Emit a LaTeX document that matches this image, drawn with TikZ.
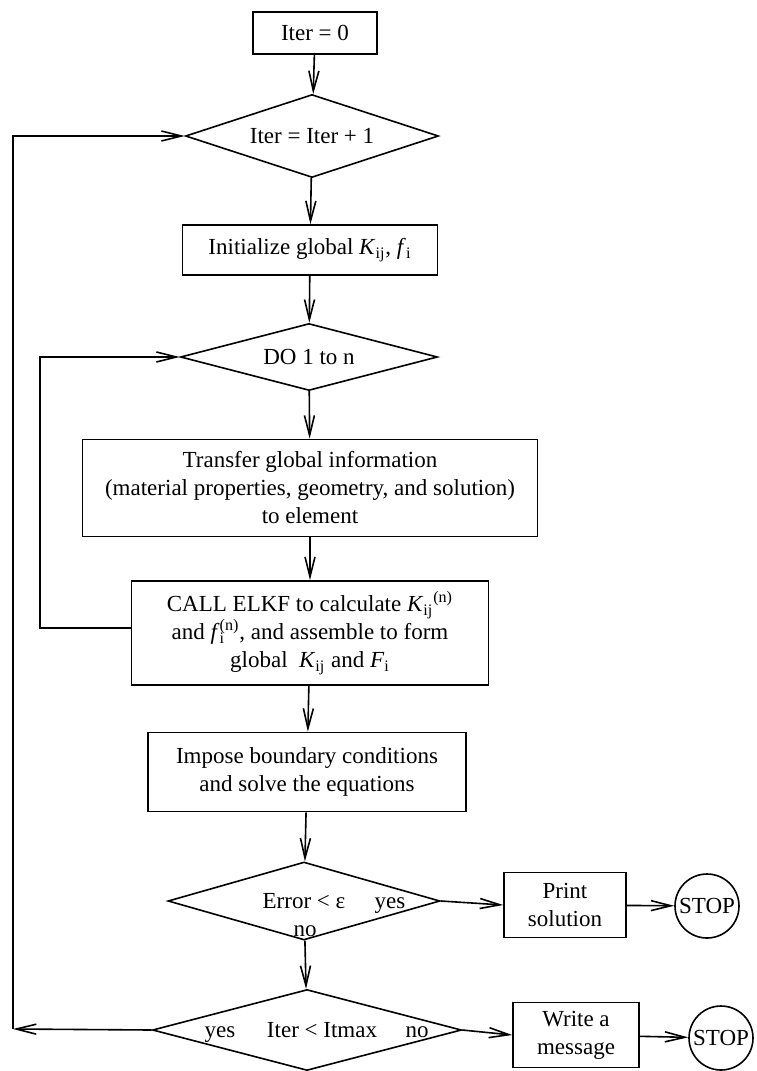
\documentclass[tikz,border=0pt]{standalone}
\usepackage{fontspec}
\setmainfont{Liberation Serif}
\usetikzlibrary{shapes.geometric,arrows.meta}
\newcommand{\Kij}{\textit{K}\textsubscript{ij}}
\newcommand{\Kijn}{\textit{K}\textsubscript{ij}\textsuperscript{(n)}}
\newcommand{\fin}{\textit{f}\rlap{\textsubscript{i}}\textsuperscript{(n)}}
\newcommand{\fsz}{\fontsize{11.5}{14}\selectfont}
\tikzset{
  box/.style={draw, line width=0.8pt, inner sep=0pt, align=center, font=\fsz},
  dia/.style={draw, diamond, line width=0.8pt, inner sep=0pt, font=\fsz, text height=7.6pt, text depth=0pt},
  stopc/.style={draw, circle, line width=0.8pt, inner sep=0.5pt, minimum size=32pt, font=\fsz},
  lbl/.style={inner sep=0pt, font=\fsz, text height=7.6pt, text depth=0pt},
  arr/.style={-{Straight Barb[length=10pt,width=5pt]}, line width=0.8pt},
  ln/.style={line width=0.8pt}
}
\begin{document}
\begin{tikzpicture}[x=0.5pt,y=-0.5pt]
\useasboundingbox (0,0) rectangle (756,1071);
\node[box, minimum width=62pt, minimum height=21pt] (iter0) at (315,33) {Iter = 0};
\node[dia, aspect=3, minimum width=126.5pt, minimum height=41.5pt] (d1) at (312,136) {Iter = Iter + 1};
\node[box, minimum width=127.5pt, minimum height=25pt] (init) at (310,250) {Initialize global \Kij, \textit{f}\textsubscript{i}};
\node[dia, aspect=3.8, minimum width=128.5pt, minimum height=33.5pt] (do) at (309,357) {DO 1 to n};
\node[box, minimum width=227.5pt, minimum height=48.5pt] (transfer) at (310,488) {Transfer global information\\(material properties, geometry, and solution)\\to element};
\node[box, minimum width=178.5pt, minimum height=52pt] (call) at (310,633) {CALL ELKF to calculate \Kijn\\and \fin, and assemble to form\\global\ \ \Kij\ and \textit{F}\textsubscript{i}};
\node[box, minimum width=159pt, minimum height=39.5pt] (impose) at (307,772) {Impose boundary conditions\\and solve the equations};
\node[dia, aspect=3.5, minimum width=136pt, minimum height=39pt] (err) at (304,901) {Error < ε};
\node[dia, aspect=3.8, minimum width=154.5pt, minimum height=40.5pt] (iterd) at (307,1030) {\hspace*{15pt}Iter < Itmax};
\node[box, minimum width=61pt, minimum height=32.5pt] (print) at (565,905) {Print\\solution};
\node[stopc] (stop1) at (707,906) {STOP};
\node[box, minimum width=63pt, minimum height=32.5pt] (write) at (576,1035) {Write a\\message};
\node[stopc] (stop2) at (721,1038) {STOP};
\node[lbl] (yes1) at (390,901) {yes};
\node[lbl] (no1) at (305,929) {no};
\node[lbl] (yes2) at (220,1030) {yes};
\node[lbl] (no2) at (417,1030) {no};
\coordinate (cb) at (13,1029);
\coordinate (ci) at (40,628);
\draw[arr] (iter0) -- (d1);
\draw[arr] (d1) -- (init);
\draw[arr] (init) -- (do);
\draw[arr] (do) -- (transfer);
\draw[arr] (transfer) -- (call);
\draw[arr] (call) -- (impose);
\draw[arr] (impose) -- (err);
\draw[arr] (err) -- (iterd);
\draw[arr] (err.east) -- (print.west);
\draw[arr] (print) -- (stop1);
\draw[arr] (iterd.east) -- (write.west);
\draw[arr] (write) -- (stop2);
\draw[arr] (iterd.west) -- (cb);
\draw[arr] (cb) |- (d1.west);
\draw[arr] (call.west |- ci) -- (ci) |- (do.west);
\end{tikzpicture}
\end{document}
